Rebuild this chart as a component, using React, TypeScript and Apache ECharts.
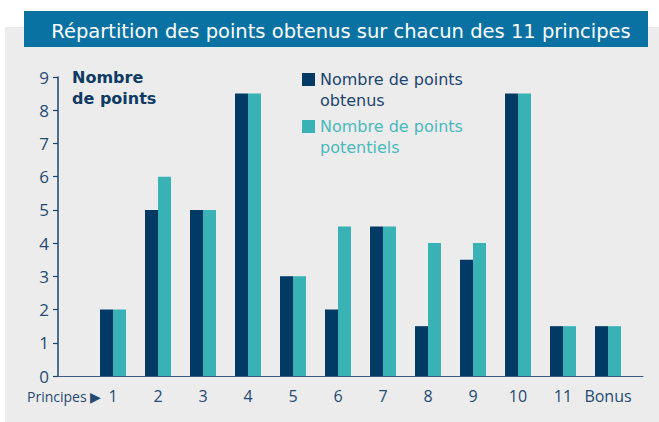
import React, { useEffect, useRef } from "react";
import * as echarts from "echarts";

const categories = ["1", "2", "3", "4", "5", "6", "7", "8", "9", "10", "11", "Bonus"];
const pointsObtenus = [2, 5, 5, 8.5, 3, 2, 4.5, 1.5, 3.5, 8.5, 1.5, 1.5];
const pointsPotentiels = [2, 6, 5, 8.5, 3, 4.5, 4.5, 4, 4, 8.5, 1.5, 1.5];
const seriesNames = ["Nombre de points obtenus", "Nombre de points potentiels"];
const titleText = "Répartition des points obtenus sur chacun des 11 principes";
const yAxisTitle = "Nombre\nde points";
const xAxisTitle = "Principes ▶";

const NAVY = "#003a65";
const TEAL = "#39b2b6";
const TEXT = "#244a72";
const FONT = "'Open Sans', 'Noto Sans', sans-serif";
const WIDE = "'DejaVu Sans', sans-serif";

export default function App() {
  const ref = useRef<HTMLDivElement>(null);
  useEffect(() => {
    if (!ref.current) return;
    const chart = echarts.init(ref.current, null, { renderer: "svg" });
    const top = 77;
    const bottom = 46;
    chart.setOption({
      animation: false,
      textStyle: { fontFamily: FONT },
      title: {
        text: titleText,
        left: 336,
        top: 16,
        textAlign: "center",
        textStyle: { color: "#ffffff", fontSize: 19.5, fontWeight: "normal", fontFamily: WIDE },
        z: 10,
      },
      graphic: [
        { type: "rect", shape: { x: 5, y: 27, width: 654, height: 395 }, style: { fill: "#ececec" }, z: -10 },
        { type: "rect", shape: { x: 24, y: 11, width: 624, height: 36 }, style: { fill: "#0a71a3" }, z: -5 },
        {
          type: "text",
          left: 72,
          top: 67,
          style: { text: yAxisTitle, fill: "#0e3a63", font: `bold 16px ${WIDE}`, lineHeight: 21 },
        },
        {
          type: "text",
          left: 27,
          top: 389,
          style: { text: xAxisTitle, fill: TEXT, font: `14px ${FONT}` },
        },
      ],
      legend: {
        orient: "vertical",
        left: 302,
        top: 48,
        padding: 0,
        itemWidth: 13,
        itemHeight: 13,
        itemGap: -16,
        icon: "rect",
        selectedMode: false,
        formatter: (name: string) => "\n" + name.replace("points ", "points\n"),
        data: [
          { name: seriesNames[0], textStyle: { color: "#1c4570" } },
          { name: seriesNames[1], textStyle: { color: "#4ab9bc" } },
        ],
        textStyle: { fontSize: 16, lineHeight: 21, fontFamily: WIDE },
      },
      grid: [
        { left: 90.5, right: 28.5, top, bottom },
        { left: 58, right: 16, top, bottom },
      ],
      xAxis: [
        {
          type: "category",
          gridIndex: 0,
          data: categories,
          axisLine: { show: false },
          axisTick: { show: false },
          axisLabel: { color: TEXT, fontSize: 16, margin: 12, interval: 0 },
        },
        {
          type: "value",
          gridIndex: 1,
          min: 0,
          max: 1,
          axisLine: { show: true, lineStyle: { color: "#3a5a7e", width: 1.2 } },
          axisTick: { show: false },
          axisLabel: { show: false },
          splitLine: { show: false },
        },
      ],
      yAxis: [
        {
          type: "value",
          gridIndex: 0,
          min: 0,
          max: 9,
          interval: 1,
          offset: 32.5,
          axisLine: { show: true, lineStyle: { color: "#1c4570", width: 1.5 } },
          axisTick: { show: true, length: 5, lineStyle: { color: "#1c4570", width: 1.2 } },
          axisLabel: { color: TEXT, fontSize: 17, margin: 9 },
          splitLine: { show: false },
        },
        { type: "value", gridIndex: 1, show: false, min: 0, max: 9 },
      ],
      series: [
        {
          name: seriesNames[0],
          type: "bar",
          xAxisIndex: 0,
          yAxisIndex: 0,
          data: pointsObtenus,
          barWidth: 13,
          barGap: "0%",
          itemStyle: { color: NAVY },
        },
        {
          name: seriesNames[1],
          type: "bar",
          xAxisIndex: 0,
          yAxisIndex: 0,
          data: pointsPotentiels,
          barWidth: 13,
          barGap: "0%",
          itemStyle: { color: TEAL },
        },
      ],
    });
    return () => chart.dispose();
  }, []);
  return (
    <div
      ref={ref}
      style={{ position: "fixed", left: 0, top: 0, width: 659, height: 422, background: "#ffffff" }}
    />
  );
}
